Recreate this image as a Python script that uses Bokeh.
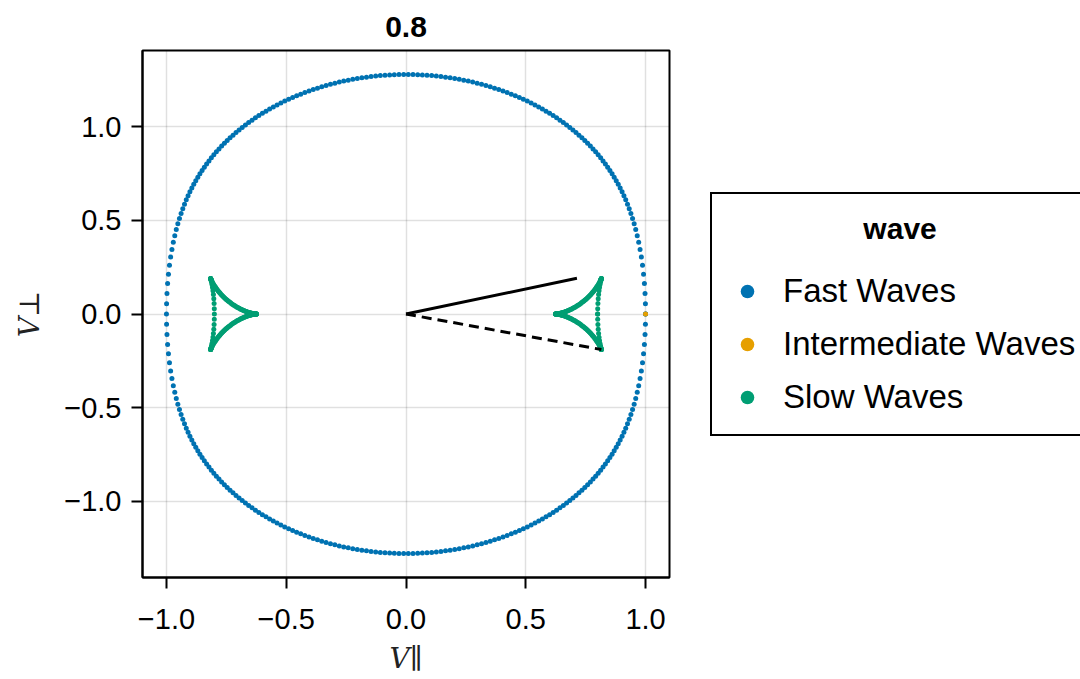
import numpy as np
from bokeh.plotting import figure
from bokeh.layouts import row
from bokeh.models import Legend, LegendItem, Range1d, FixedTicker
from bokeh.embed import file_html
from bokeh.resources import INLINE

# ---- data ----
title_text = "0.8"
alfven_speed = 1.0          # V_A (fast extent along the field)
sound_speed = 0.8           # c_s (title value)
theta = np.linspace(0.0, 2.0 * np.pi, 315)   # wave-vector angles sampled
probe_angle_deg = 15.0      # angle of the drawn phase/group vectors
x_ticks = [-1.0, -0.5, 0.0, 0.5, 1.0]
x_tick_labels = ["\u22121.0", "\u22120.5", "0.0", "0.5", "1.0"]
y_ticks = [-1.0, -0.5, 0.0, 0.5, 1.0]
y_tick_labels = ["\u22121.0", "\u22120.5", "0.0", "0.5", "1.0"]
series_names = ["Fast Waves", "Intermediate Waves", "Slow Waves"]
series_colors = ["#0072B2", "#E69F00", "#009E73"]
legend_title = "wave"
x_label = "V\u2225"
y_label = "V\u22a5"

# ---- group velocities from the MHD dispersion relation ----
a2, c2 = alfven_speed ** 2, sound_speed ** 2
S = a2 + c2


def group_velocity(th, mode):
    cos, sin = np.cos(th), np.sin(th)
    if mode == "int":
        v = alfven_speed * cos
        dv = -alfven_speed * sin
    else:
        D = np.sqrt(S ** 2 - 4 * a2 * c2 * cos ** 2)
        sgn = 1.0 if mode == "fast" else -1.0
        v2 = 0.5 * (S + sgn * D)
        v = np.sqrt(np.maximum(v2, 1e-30))
        dv2 = sgn * 2 * a2 * c2 * cos * sin / D
        dv = dv2 / (2 * v)
    return v * cos - dv * sin, v * sin + dv * cos, v


fx, fy, _ = group_velocity(theta, "fast")
ix, iy, _ = group_velocity(np.array([0.0]), "int")
sx, sy, _ = group_velocity(theta, "slow")
pa = np.deg2rad(probe_angle_deg)
gx, gy, vph = group_velocity(np.array([pa]), "slow")
phase_x = [0.0, float(vph[0] * np.cos(pa))]
phase_y = [0.0, float(vph[0] * np.sin(pa))]
group_x = [0.0, float(gx[0])]
group_y = [0.0, float(gy[0])]

FONT = "Liberation Sans"

p = figure(
    frame_width=527, frame_height=527,
    x_range=Range1d(-1.1, 1.1), y_range=Range1d(-1.409, 1.409),
    output_backend="svg", toolbar_location=None,
    min_border_left=142, min_border_top=50, min_border_right=31, min_border_bottom=102,
)
p.title.text = title_text
p.title.align = "center"
p.title.text_font = FONT
p.title.text_font_size = "30px"
p.title.text_font_style = "bold"
p.title.text_color = "black"
p.title.standoff = 27

p.outline_line_color = "black"
p.outline_line_width = 2
p.outline_line_alpha = 1.0

for ax, ticks, labels, lab in ((p.xaxis[0], x_ticks, x_tick_labels, x_label),
                               (p.yaxis[0], y_ticks, y_tick_labels, y_label)):
    ax.ticker = FixedTicker(ticks=ticks)
    ax.major_label_overrides = {t: l for t, l in zip(ticks, labels)}
    ax.major_label_text_font = FONT
    ax.major_label_text_font_size = "29px"
    ax.major_label_text_color = "black"
    ax.major_tick_out = 11
    ax.major_tick_in = 0
    ax.major_tick_line_width = 2
    ax.major_tick_line_color = "black"
    ax.minor_tick_line_color = None
    ax.axis_line_width = 2
    ax.axis_line_color = "black"
    ax.axis_label = lab
    ax.axis_label_text_font = "DejaVu Serif"
    ax.axis_label_text_font_style = "italic"
    ax.axis_label_text_font_size = "28px"
    ax.axis_label_text_color = "#222222"

p.xaxis.major_label_standoff = 20
p.yaxis.major_label_standoff = 10
p.xaxis.axis_label_standoff = 10
p.yaxis.axis_label_standoff = 15

for g in (p.xgrid[0], p.ygrid[0]):
    g.grid_line_color = "black"
    g.grid_line_alpha = 0.12
    g.grid_line_width = 1.5
p.xgrid.ticker = FixedTicker(ticks=x_ticks)
p.ygrid.ticker = FixedTicker(ticks=y_ticks)

p.scatter(fx, fy, size=5, color=series_colors[0], line_color=None)
p.scatter(ix, iy, size=5, color=series_colors[1], line_color=None)
p.scatter(sx, sy, size=5, color=series_colors[2], line_color=None)
p.line(phase_x, phase_y, line_color="black", line_width=3)
p.line(group_x, group_y, line_color="black", line_width=3, line_dash="10 6")

# ---- legend panel (separate canvas to the right of the axes) ----
p2 = figure(
    width=380, height=679, x_range=Range1d(0, 1), y_range=Range1d(0, 1),
    output_backend="svg", toolbar_location=None, min_border=0,
)
p2.axis.visible = False
p2.grid.visible = False
p2.outline_line_color = None
legend_renderers = [
    p2.scatter([np.nan], [np.nan], color=c, line_color=None) for c in series_colors
]

# title centred over the entries (legend titles are left-aligned, so pad with no-break spaces)
padded_title = "\u00a0" * 16 + legend_title

legend = Legend(
    items=[LegendItem(label=n, renderers=[r]) for n, r in zip(series_names, legend_renderers)],
    location=(10, 141),
    title=padded_title,
)
legend.title_text_font = FONT
legend.title_text_font_style = "bold"
legend.title_text_font_size = "30px"
legend.title_text_color = "black"
legend.title_standoff = 26
legend.label_text_font = FONT
legend.label_text_font_size = "33px"
legend.label_text_color = "black"
legend.glyph_width = 34
legend.glyph_height = 34
legend.label_height = 34
legend.spacing = 15
legend.label_standoff = 19
legend.padding = 18
legend.margin = 0
legend.border_line_color = "black"
legend.border_line_width = 2
legend.border_line_alpha = 1.0
legend.background_fill_color = "white"
legend.background_fill_alpha = 1.0
p2.add_layout(legend, "center")

layout = row(p, p2, spacing=0)
open("out.html", "w").write(file_html(layout, INLINE))
